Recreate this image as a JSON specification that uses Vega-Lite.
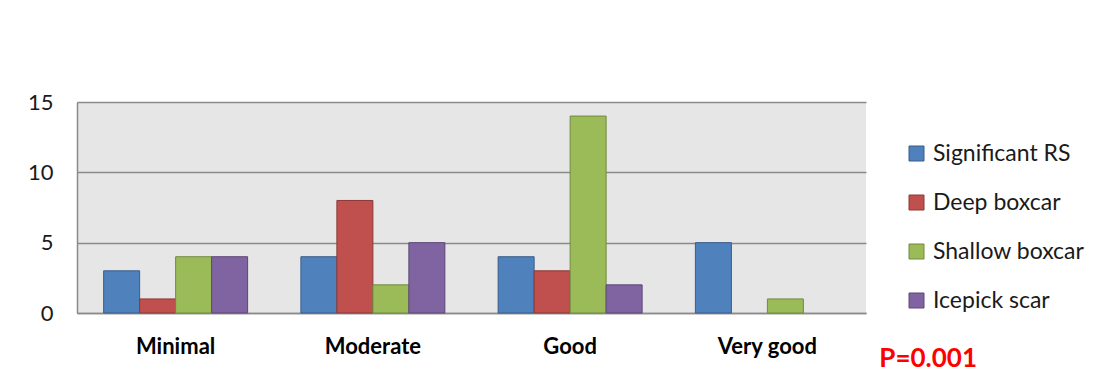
{
  "$schema": "https://vega.github.io/schema/vega-lite/v6.json",
  "width": 789,
  "height": 211,
  "autosize": {"type": "none"},
  "padding": {"left": 77, "top": 102, "right": 240, "bottom": 66},
  "background": "white",
  "data": {
    "values": [
      {"category": "Minimal", "series": "Significant RS", "value": 3},
      {"category": "Minimal", "series": "Deep boxcar", "value": 1},
      {"category": "Minimal", "series": "Shallow boxcar", "value": 4},
      {"category": "Minimal", "series": "Icepick scar", "value": 4},
      {"category": "Moderate", "series": "Significant RS", "value": 4},
      {"category": "Moderate", "series": "Deep boxcar", "value": 8},
      {"category": "Moderate", "series": "Shallow boxcar", "value": 2},
      {"category": "Moderate", "series": "Icepick scar", "value": 5},
      {"category": "Good", "series": "Significant RS", "value": 4},
      {"category": "Good", "series": "Deep boxcar", "value": 3},
      {"category": "Good", "series": "Shallow boxcar", "value": 14},
      {"category": "Good", "series": "Icepick scar", "value": 2},
      {"category": "Very good", "series": "Significant RS", "value": 5},
      {"category": "Very good", "series": "Deep boxcar", "value": 0},
      {"category": "Very good", "series": "Shallow boxcar", "value": 1},
      {"category": "Very good", "series": "Icepick scar", "value": 0}
    ]
  },
  "title": {
    "text": "P=0.001",
    "orient": "bottom",
    "anchor": "end",
    "frame": "group",
    "color": "#ff0000",
    "font": "Lato",
    "fontSize": 26,
    "fontWeight": "bold",
    "offset": 0,
    "dx": 111,
    "dy": -11
  },
  "mark": {"type": "bar", "strokeWidth": 1},
  "encoding": {
    "x": {
      "field": "category",
      "type": "nominal",
      "sort": ["Minimal", "Moderate", "Good", "Very good"],
      "scale": {"paddingInner": 0.27, "paddingOuter": 0.135},
      "axis": {
        "title": null,
        "labelAngle": 0,
        "ticks": false,
        "domain": true,
        "domainColor": "#8a8a8a",
        "domainWidth": 1.5,
        "labelFont": "Lato",
        "labelFontSize": 22,
        "labelFontWeight": "bold",
        "labelColor": "#000000",
        "labelPadding": 23
      }
    },
    "xOffset": {
      "field": "series",
      "type": "nominal",
      "sort": ["Significant RS", "Deep boxcar", "Shallow boxcar", "Icepick scar"],
      "scale": {"paddingInner": 0, "paddingOuter": 0}
    },
    "y": {
      "field": "value",
      "type": "quantitative",
      "scale": {"domain": [0, 15], "nice": false},
      "axis": {
        "title": null,
        "values": [0, 5, 10, 15],
        "ticks": false,
        "domain": true,
        "domainColor": "#8a8a8a",
        "domainWidth": 1.5,
        "grid": true,
        "gridColor": "#8a8a8a",
        "gridWidth": 1.5,
        "labelFont": "Lato",
        "labelFontSize": 22,
        "labelColor": "#1a1a1a",
        "labelPadding": 24
      }
    },
    "fill": {
      "field": "series",
      "type": "nominal",
      "sort": ["Significant RS", "Deep boxcar", "Shallow boxcar", "Icepick scar"],
      "scale": {
        "domain": ["Significant RS", "Deep boxcar", "Shallow boxcar", "Icepick scar"],
        "range": ["#4F81BD", "#C0504D", "#9BBB59", "#8064A2"]
      },
      "legend": {
        "title": null,
        "orient": "none",
        "legendX": 828,
        "legendY": 40,
        "symbolType": "square",
        "symbolSize": 225,
        "symbolStrokeWidth": 1,
        "labelFont": "Lato",
        "labelFontSize": 23,
        "labelColor": "#1a1a1a",
        "labelOffset": 5,
        "rowPadding": 25
      }
    },
    "stroke": {
      "field": "series",
      "type": "nominal",
      "sort": ["Significant RS", "Deep boxcar", "Shallow boxcar", "Icepick scar"],
      "scale": {
        "domain": ["Significant RS", "Deep boxcar", "Shallow boxcar", "Icepick scar"],
        "range": ["#385D8A", "#8C3836", "#71893F", "#5C4776"]
      },
      "legend": null
    },
    "strokeOpacity": {
      "condition": {"test": "datum.value == 0", "value": 0},
      "value": 1
    }
  },
  "config": {
    "view": {"fill": "#e6e6e6", "stroke": null}
  }
}
